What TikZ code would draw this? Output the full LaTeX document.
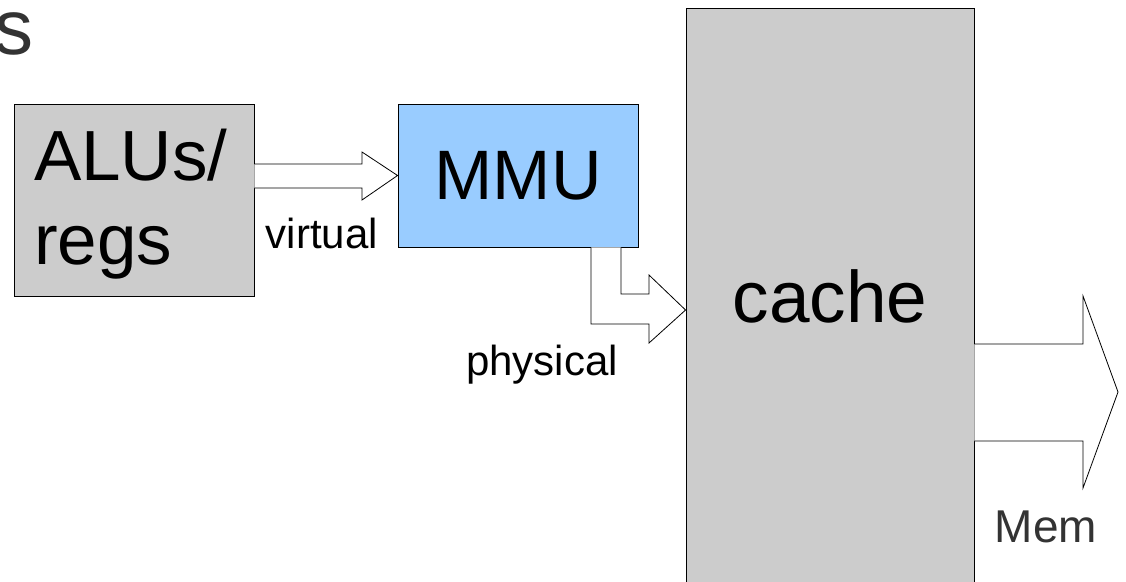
\documentclass[tikz,border=0pt]{standalone}
\usepackage{fontspec}
\setmainfont{Liberation Sans}
\definecolor{boxgray}{HTML}{CCCCCC}
\definecolor{mmublue}{HTML}{99CCFF}
\definecolor{txtgray}{HTML}{333333}
\tikzset{
    unit/.style={draw=black, line width=0.9pt, inner sep=0pt},
    blockarrow/.style={draw=black, line width=0.8pt, fill=white, line join=miter},
    lbl/.style={inner sep=0pt, anchor=base}
}
\begin{document}
\begin{tikzpicture}[x=1pt,y=-1pt]
    \useasboundingbox (0,0) rectangle (1126,581);
    % title fragment
    \node[lbl, anchor=base east, text=txtgray, font=\fontsize{78}{90}\selectfont] (title) at (34,54) {s};
    % units
    \node[unit, fill=boxgray, minimum width=240, minimum height=192, text width=200, inner xsep=20, align=left,
          font=\fontsize{71}{84}\selectfont] (alus) at (134,200) {\rule{0pt}{60pt}ALUs/\\regs};
    \node[unit, fill=mmublue, minimum width=240, minimum height=143, font=\fontsize{70}{80}\selectfont] (mmu) at (518,175.5) {MMU};
    \node[unit, fill=boxgray, minimum width=288, minimum height=576, font=\fontsize{73}{84}\selectfont] (cache) at (830,296) {cache};
    \coordinate (memtip) at (1118,392);
    % virtual address
    \draw[blockarrow] (alus.east |- 0,164) -- (362,164) -- (362,152) -- (mmu.west)
        -- (362,200) -- (362,188) -- (alus.east |- 0,188);
    \node[lbl, font=\fontsize{42}{48}\selectfont] (virt) at (322,248) {virtual};
    % physical address
    \draw[blockarrow] (mmu.south -| 621,0) -- (621,294) -- (649,294) -- (649,275) -- (cache.west |- 0,310)
        -- (649,343) -- (649,324) -- (591,324) -- (mmu.south -| 591,0);
    \node[lbl, font=\fontsize{42}{48}\selectfont] (phys) at (542,375) {physical};
    % to memory
    \draw[blockarrow] (cache.east |- 0,344) -- (1083,344) -- (1083,296) -- (memtip)
        -- (1083,488) -- (1083,441) -- (cache.east |- 0,441);
    \node[lbl, text=txtgray, font=\fontsize{46}{52}\selectfont] (mem) at (1046,542) {Mem};
\end{tikzpicture}
\end{document}
